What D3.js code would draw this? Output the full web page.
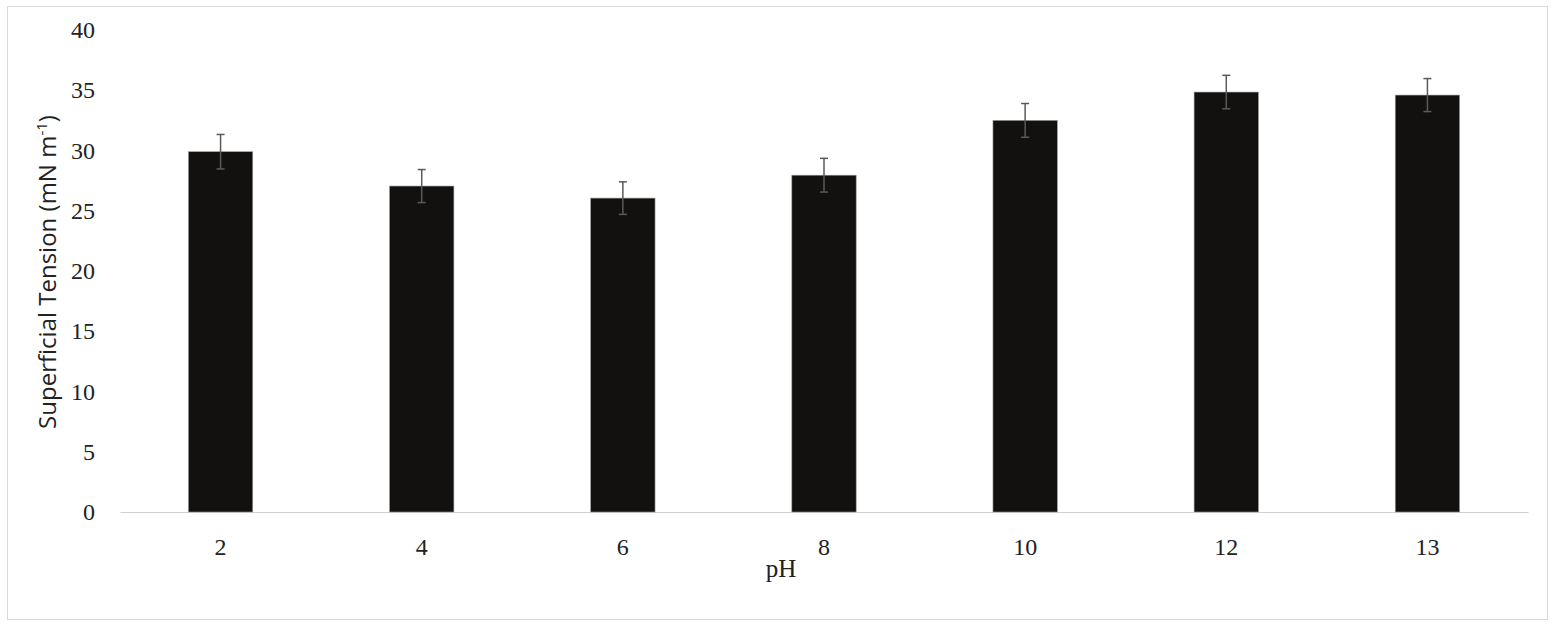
<!DOCTYPE html>
<html>
<head>
<meta charset="utf-8">
<script src="https://cdn.jsdelivr.net/npm/d3@7"></script>
<style>
  body { margin: 0; background: #fff; }
</style>
</head>
<body>
<div id="chart"></div>
<script>
// Data
const categories = ["2", "4", "6", "8", "10", "12", "13"];
const tension = [29.9, 27.05, 26.05, 27.95, 32.5, 34.85, 34.6];
const errors = [1.43, 1.37, 1.35, 1.4, 1.4, 1.39, 1.37];
const yTicks = [0, 5, 10, 15, 20, 25, 30, 35, 40];

const W = 1566, H = 624;
const margin = {top: 30, right: 38, bottom: 112, left: 120};
const width = W - margin.left - margin.right,
    height = H - margin.top - margin.bottom;

const serif = "Liberation Serif, Times New Roman, serif";

const root = d3.select("#chart").append("svg")
    .attr("width", W)
    .attr("height", H);

// outer frame
root.append("rect")
    .attr("x", 7.5).attr("y", 6.5)
    .attr("width", 1540).attr("height", 613)
    .attr("fill", "#fff")
    .attr("stroke", "#d9d9d9")
    .attr("stroke-width", 1);

const svg = root.append("g")
    .attr("transform", `translate(${margin.left},${margin.top})`);

const x = d3.scaleBand()
    .domain(categories)
    .range([0, width])
    .paddingInner(0.68)
    .paddingOuter(0.34);

const y = d3.scaleLinear()
    .domain([0, 40])
    .range([height, 0]);

// Y axis labels (no line, no ticks)
const yAxis = svg.append("g")
    .call(d3.axisLeft(y).tickValues(yTicks).tickSize(0).tickPadding(25));
yAxis.select(".domain").remove();
yAxis.selectAll("text")
    .attr("font-family", serif)
    .attr("font-size", 24)
    .attr("fill", "#222");

// X axis
const xAxis = svg.append("g")
    .attr("transform", `translate(0,${height})`)
    .call(d3.axisBottom(x).tickSize(0).tickPadding(26));
xAxis.select(".domain").attr("stroke", "#d0d0d0").attr("stroke-width", 1.2);
xAxis.selectAll("text")
    .attr("font-family", serif)
    .attr("font-size", 24)
    .attr("fill", "#222");

// Bars
svg.selectAll(".bar")
    .data(categories)
    .enter()
    .append("rect")
    .attr("class", "bar")
    .attr("x", d => x(d))
    .attr("y", (d, i) => y(tension[i]))
    .attr("width", x.bandwidth())
    .attr("height", (d, i) => height - y(tension[i]))
    .attr("fill", "#12110f")
    .attr("stroke", "#9a9a9a")
    .attr("stroke-width", 0.6);

// Error bars
const eb = svg.selectAll(".err")
    .data(categories)
    .enter()
    .append("g")
    .attr("class", "err")
    .attr("stroke", "#5a5a5a")
    .attr("stroke-width", 1.5);
const cx = d => x(d) + x.bandwidth() / 2;
eb.append("line")
    .attr("x1", cx).attr("x2", cx)
    .attr("y1", (d, i) => y(tension[i] + errors[i]))
    .attr("y2", (d, i) => y(tension[i] - errors[i]));
eb.append("line")
    .attr("x1", d => cx(d) - 4).attr("x2", d => cx(d) + 4)
    .attr("y1", (d, i) => y(tension[i] + errors[i]))
    .attr("y2", (d, i) => y(tension[i] + errors[i]));
eb.append("line")
    .attr("x1", d => cx(d) - 4).attr("x2", d => cx(d) + 4)
    .attr("y1", (d, i) => y(tension[i] - errors[i]))
    .attr("y2", (d, i) => y(tension[i] - errors[i]));

// X axis label
svg.append("text")
    .attr("x", 661)
    .attr("y", height + 65)
    .attr("text-anchor", "middle")
    .attr("font-family", serif)
    .attr("font-size", 25)
    .attr("fill", "#222")
    .text("pH");

// Y axis label
const yl = svg.append("text")
    .attr("transform", `translate(${-64},${height / 2 + 1}) rotate(-90)`)
    .attr("text-anchor", "middle")
    .attr("font-family", "Open Sans, sans-serif")
    .attr("font-size", 24)
    .attr("fill", "#222");
yl.append("tspan").text("Superficial Tension (mN m");
yl.append("tspan").attr("font-size", 15).attr("dy", -9).text("-1");
yl.append("tspan").attr("dy", 9).text(")");
</script>
</body>
</html>
